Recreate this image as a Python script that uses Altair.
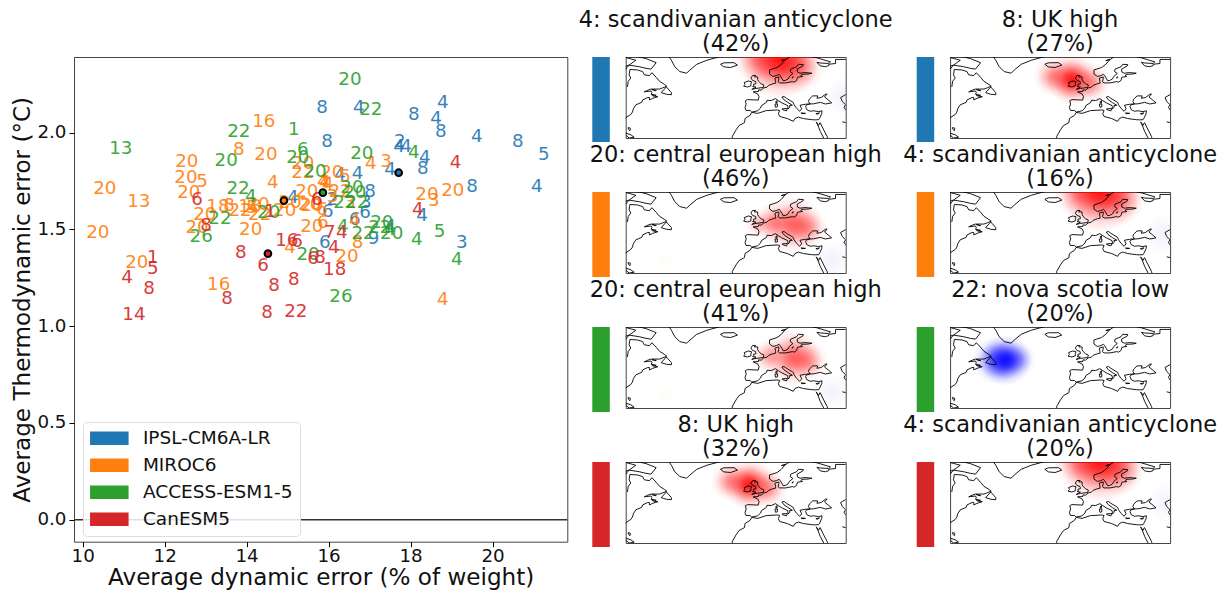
import altair as alt
import pandas as pd

FONT = "DejaVu Sans"
MODELS = ["IPSL-CM6A-LR", "MIROC6", "ACCESS-ESM1-5", "CanESM5"]
COLORS = ["#1f77b4", "#ff7f0e", "#2ca02c", "#d62728"]

blue_lab = [8,4,8,4,4,8,4,8,5,8,2,4,4,4,8,4,8,4,4,4,8,3,6,6,6,4,4,3,6,9,2,4]
blue_x = [15.84,16.74,18.08,18.79,18.62,18.74,19.62,20.62,21.25,15.96,17.74,17.72,17.89,18.35,18.30,17.50,19.50,21.08,16.28,16.71,17.01,16.91,15.98,16.89,16.64,17.50,18.28,19.25,15.91,17.10,16.10,15.13]
blue_y = [2.13,2.13,2.09,2.155,2.07,2.005,1.98,1.95,1.886,1.953,1.953,1.928,1.928,1.87,1.814,1.809,1.721,1.721,1.783,1.788,1.695,1.638,1.592,1.587,1.55,1.514,1.571,1.432,1.432,1.452,1.654,1.664]

orange_lab = [16,8,20,20,20,5,20,20,13,20,4,18,8,20,22,18,20,5,22,20,20,20,20,20,20,20,22,4,20,16,4,20,6,20,8,4,4,20,20,3,20,5,4,4,3,22,3,3,20,6,4]
orange_x = [14.42,13.81,14.47,12.54,12.52,12.91,12.59,10.54,11.37,10.37,14.64,13.30,13.57,12.98,13.84,14.08,14.28,14.13,14.32,14.93,15.06,12.79,14.10,15.59,15.47,15.37,15.37,15.91,11.32,13.32,15.06,15.59,15.86,16.45,16.71,16.64,18.79,18.40,19.03,18.57,16.08,16.40,15.86,17.03,17.40,16.28,16.10,16.52,15.54,15.84,15.98]
orange_y = [2.057,1.912,1.886,1.85,1.767,1.747,1.69,1.711,1.643,1.483,1.742,1.618,1.623,1.576,1.597,1.618,1.628,1.612,1.576,1.597,1.638,1.509,1.499,1.623,1.695,1.84,1.793,1.742,1.328,1.214,1.406,1.514,1.535,1.359,1.432,1.545,1.137,1.68,1.70,1.649,1.793,1.773,1.747,1.84,1.85,1.695,1.669,1.638,1.628,1.602,1.731]

green_lab = [20,22,1,22,13,20,6,20,20,22,4,22,20,26,20,20,4,20,20,22,22,4,22,22,20,20,4,5,4,26,4]
green_x = [16.52,17.03,15.15,13.81,10.93,13.50,15.37,15.25,15.67,13.79,14.10,13.35,14.54,12.89,15.50,16.81,18.08,16.57,16.64,16.40,16.69,16.35,16.84,17.25,17.30,17.54,18.15,18.71,19.13,16.30,17.50]
green_y = [2.274,2.119,2.016,2.005,1.917,1.855,1.912,1.871,1.798,1.711,1.669,1.556,1.587,1.463,1.37,1.891,1.897,1.716,1.69,1.638,1.638,1.514,1.478,1.509,1.535,1.478,1.447,1.488,1.344,1.152,1.499]

red_lab = [4,4,6,8,1,6,1,5,4,8,14,8,6,16,6,8,8,8,8,22,6,8,7,4,4,18]
red_x = [19.10,18.18,12.79,13.01,14.57,15.71,11.71,11.71,11.08,11.62,11.25,13.86,14.40,14.98,15.23,14.67,15.15,13.52,14.50,15.20,15.62,15.79,16.03,16.32,16.13,16.15]
red_y = [1.845,1.602,1.654,1.519,1.592,1.654,1.354,1.297,1.251,1.194,1.059,1.38,1.313,1.442,1.437,1.209,1.24,1.142,1.07,1.075,1.349,1.354,1.483,1.483,1.406,1.292]

mean_x = [17.71, 14.91, 15.86, 14.52]
mean_y = [1.793, 1.649, 1.69, 1.375]

x_ticks = [10, 12, 14, 16, 18, 20]
y_ticks = [0.0, 0.5, 1.0, 1.5, 2.0]

titles = [
    ["4: scandivanian anticyclone", "(42%)"], ["8: UK high", "(27%)"],
    ["20: central european high", "(46%)"], ["4: scandivanian anticyclone", "(16%)"],
    ["20: central european high", "(41%)"], ["22: nova scotia low", "(20%)"],
    ["8: UK high", "(32%)"], ["4: scandivanian anticyclone", "(20%)"],
]

# anomaly blobs per panel, each built of round spots: lon, lat, radius in degrees of lon, colour kind
blob_panel = [0,0,0,0, 1,1,1, 2,2,2,2,2,2, 3,3,3,3, 4,4,4,4,4, 5,5,5, 6,6,6, 7,7,7,7]
blob_lon = [-1,11,22,49, -19,-8,3, 7,19,28,-2,42,-56, -3,9,20,46, 5,19,28,42,-56, -53,-47,-40, -18,-7,4, -3,9,20,48]
blob_lat = [69,68,64,46, 58,56,54, 51,50,48,50,28,28, 70,70,66,44, 52,51,49,30,28, 49.5,49.5,50, 58,56,54, 70,70,66,45]
blob_r = [16,23,16,14, 12,15,12, 12,17,12,8,13,8, 16,24,16,14, 11,17,12,13,8, 14,15,11, 12,15,12, 16,24,16,14]
blob_kind = ["r4","r9","r4","b0", "r4","r9","r4", "r4","r6","r3","r2","b0","y0", "r4","r9","r4","b0", "r3","r6","r3","b0","y0", "b6","b9","b3", "r4","r9","r4", "r4","r9","r4","b0"]

coast = {
 "labrador": [(-79,51.5),(-78.5,55),(-77,57),(-78,59),(-77.5,62.3),(-73,62),(-70,61),(-69,59),(-66,58.5),(-64.5,60.3),(-62,57.5),(-60,55),(-57,53),(-55.7,52),(-58,51),(-60,50.2),(-65,50.2),(-67,49.5),(-69,48.5),(-65,49),(-64.5,48),(-65,47),(-64,46),(-61,45.5),(-64,44.5),(-66,43.5),(-66,45),(-67,45),(-70,43.5),(-70.5,42),(-74,40.5),(-75.5,38),(-76,36),(-77,34.5),(-80,32.5),(-81.5,30.5)],
 "newfoundland": [(-59,48),(-56,51.5),(-53,48),(-53,46.7),(-56,47),(-59,48)],
 "baffin": [(-81,71),(-72,70),(-68,69),(-62,66.5),(-65,62.5),(-68,63),(-72,64),(-78,65),(-74,68),(-81,70)],
 "southampton": [(-81,64),(-78,65),(-80,62.5),(-81,64)],
 "greenland": [(-55,71),(-53,68),(-51,64),(-48,61),(-44,60),(-42,62),(-38,65.5),(-32,68),(-25,70),(-22,71)],
 "iceland": [(-24,65.5),(-22,66.4),(-16,66.5),(-14,65),(-18,63.5),(-22,63.9),(-24,65.5)],
 "britain": [(-5.5,50),(-3,50.6),(1.3,51.2),(1.7,52.7),(0,53.5),(-1.5,55),(-2,56),(-2,57.7),(-4,57.7),(-3.2,58.6),(-5,58.6),(-6,57),(-5,55.5),(-3.2,54.9),(-3,53.5),(-4.5,53.2),(-4.2,52.3),(-5,51.8),(-3,51.4),(-5.5,50)],
 "ireland": [(-6,52.2),(-6,53.5),(-5.6,54.7),(-7.5,55.2),(-10,54.2),(-9.5,53),(-10.3,52),(-8,51.5),(-6,52.2)],
 "eurasia": [(18,71),(14,68),(12,65.5),(9.5,63.5),(5,62),(5,59.5),(7,58),(9,58.5),(10.7,59.3),(11.3,58.5),(12.5,56.5),(13,55.4),(14.3,55.5),(16,56.5),(16.7,58),(18.8,59.8),(17.2,61),(17.5,62.5),(21,64),(22,65.5),(25,65.3),(24.7,64.5),(21.3,62.5),(21.5,60.7),(23,60),(26,60.4),(30,60),(28,59.5),(24,59.3),(23.5,58.5),(24.5,58),(21.5,57.5),(21,55.5),(19.5,54.5),(18.5,54.8),(14.5,54),(11,54),(10,54.8),(10.5,56.5),(10.5,57.7),(8.2,57),(8.5,55),(8.7,53.9),(7,53.5),(4.5,52.5),(3.5,51.4),(1.6,50.9),(0,49.5),(-1.5,49.7),(-1.6,48.7),(-4.7,48.5),(-2,47.2),(-1.2,45.5),(-1.7,43.4),(-8,43.7),(-9.3,43),(-8.8,41),(-9.5,38.7),(-8.9,37),(-6.5,37),(-5.5,36),(-2,36.8),(-0.3,38.5),(0.2,40),(3.2,42),(3.5,43.3),(6,43.1),(8.5,44.3),(10.3,43),(12.3,41.7),(15.7,40),(16,38),(17,39),(16.8,40),(18.5,40.2),(16,41.8),(13.5,43.6),(12.3,45.3),(13.6,45.6),(15,44.5),(19,42),(19.5,40.5),(21,38.3),(22.8,36.5),(24,38),(23,40.2),(26,40.8),(29,41.1),(28,42.5),(28.5,44),(30.5,46),(33.5,46),(33,44.5),(35.5,45),(38,47),(39,47.2),(37.5,45.3),(40,43.2),(41.7,41.7),(38,41),(35,42),(31,41.1),(29,41),(27,40.5),(26.3,39.5),(27,37.5),(29,36.5),(31,36.8),(34,36.3),(36,36.8),(35.8,35),(34.7,32.5),(34,31.3),(32,31.2),(30,31.3),(25,32),(22,32.9),(20,32),(19,30.3),(15.5,32),(11,33.3),(10.2,35),(11,37),(9.5,37.3),(3,36.9),(-2,35.2),(-5.5,35.8),(-6.5,34),(-9.5,32),(-9.8,29.5),(-13,27.7),(-14.8,25),(-17,21),(-17,19)],
 "redsea_w": [(32.5,30),(33.5,28),(35,24),(37,20),(37.5,19)],
 "sinai": [(34.8,29.5),(34,27.8),(32.7,29.8)],
 "redsea_e": [(34.9,29.5),(37,25),(39,21),(39.5,19)],
 "caspian": [(47,45),(50,46.8),(53,46),(52,43),(53.5,40),(54,37),(50,37.3),(49,39),(50,40.5),(48,42.5),(47,45)],
 "gulf": [(48,30),(50,29.5),(52,27.5)],
 "kola": [(27,71),(33,69.5),(41,67),(40,66),(35,66.3),(33,66.7),(35,64.5),(38,64),(40,64.7),(40,65.5),(44,66),(44,68.5),(50,68.5),(54,68.5)],
 "sicily": [(12.5,38),(15.6,38.2),(15,36.7),(12.5,37.6),(12.5,38)],
 "sardinia": [(8.2,41),(9.7,41),(9.6,39.2),(8.5,39),(8.2,41)],
 "corsica": [(8.7,42.5),(9.5,43),(9.4,41.5),(8.8,41.6),(8.7,42.5)],
 "crete": [(23.6,35.5),(26.2,35.2),(24,35),(23.6,35.5)],
 "cyprus": [(32.4,35),(34.5,35.5),(33.5,34.7),(32.4,35)],
 "cuba": [(-80,23),(-77,22),(-75,20.5),(-78,20),(-80,21.8)],
 "bahamas": [(-78.5,26.5),(-77.2,26),(-77.5,24.5),(-78.5,25.5),(-78.5,26.5)],
 "pei": [(-64.5,46.9),(-62,46.4),(-63,46.1),(-64.5,46.9)],
 "anticosti": [(-64.5,49.9),(-62,49.4),(-62,49.1),(-64.5,49.9)],
 "lofoten": [(12,67.8),(14.5,68.6),(14,68.2),(12,67.8)],
 "gotland": [(18.2,57),(19,57.9),(18.8,57.2),(18.2,57)],
}

# ---------- scatter ----------
rows = []
for m, lab, xs, ys in zip(MODELS, [blue_lab, orange_lab, green_lab, red_lab], [blue_x, orange_x, green_x, red_x], [blue_y, orange_y, green_y, red_y]):
    for l, a, b in zip(lab, xs, ys):
        rows.append({"model": m, "label": str(l), "dyn": a, "thermo": b})
points = pd.DataFrame(rows)
means = pd.DataFrame({"model": MODELS, "dyn": mean_x, "thermo": mean_y, "c": COLORS})

x_scale = alt.Scale(domain=[9.788, 21.825], nice=False, zero=False)
y_scale = alt.Scale(domain=[-0.114, 2.391], nice=False, zero=False)
x_axis = alt.Axis(values=x_ticks, title="Average dynamic error (% of weight)", grid=False, domain=False,
                  labelFontSize=18.3, titleFontSize=23.1, tickColor="black", tickSize=5, labelColor="#111",
                  titleColor="#111", titleFontWeight="normal", labelPadding=1, titlePadding=1, labelFont=FONT, titleFont=FONT)
y_axis = alt.Axis(values=y_ticks, format=".1f", title="Average Thermodynamic error (°C)", grid=False, domain=False,
                  labelFontSize=18.3, titleFontSize=23.1, tickColor="black", tickSize=5, labelColor="#111",
                  titleColor="#111", titleFontWeight="normal", labelPadding=3, titlePadding=2.5, labelFont=FONT, titleFont=FONT)

rule = alt.Chart(pd.DataFrame({"zero": [0]})).mark_rule(color="#333", strokeWidth=1.5).encode(
    y=alt.Y("zero:Q", scale=y_scale, axis=y_axis))
txt = alt.Chart(points).mark_text(font=FONT, fontSize=18.3, opacity=0.9, baseline="middle", align="center").encode(
    x=alt.X("dyn:Q", scale=x_scale, axis=x_axis),
    y=alt.Y("thermo:Q", scale=y_scale, axis=y_axis),
    text="label:N",
    color=alt.Color("model:N", scale=alt.Scale(domain=MODELS, range=COLORS), legend=alt.Legend(
        title=None, orient="none", legendX=9, legendY=365, symbolType="M-1.3,-0.955H4.15V0.955H-1.3Z", symbolSize=200,
        symbolStrokeWidth=0, symbolOpacity=1, labelFontSize=18.5, labelFont=FONT, labelColor="#111",
        fillColor="rgba(255,255,255,0.85)", strokeColor="#ddd", cornerRadius=4, padding=7, rowPadding=8,
        labelOffset=34.4, values=MODELS)),
)
dots = alt.Chart(means).mark_point(filled=True, size=45, stroke="black", strokeWidth=2, opacity=1).encode(
    x=alt.X("dyn:Q", scale=x_scale, axis=x_axis),
    y=alt.Y("thermo:Q", scale=y_scale, axis=y_axis),
    fill=alt.Fill("c:N", scale=None),
)
scatter = alt.layer(rule, txt, dots).properties(width=493.3, height=484.7)

# ---------- maps ----------
coast_rows = []
for name, pts in coast.items():
    for i, (lo, la) in enumerate(pts):
        coast_rows.append({"path": name, "i": i, "lon": lo, "lat": la})
coast_df = pd.DataFrame(coast_rows)
lon_scale = alt.Scale(domain=[-80, 50], nice=False, zero=False)
lat_scale = alt.Scale(domain=[20, 70], nice=False, zero=False)

def grad(rgb, a):
    f = "rgba(%s,%%.3f)" % rgb
    return alt.RadialGradient(gradient="radial", x1=0.5, y1=0.5, x2=0.5, y2=0.5, r1=0, r2=0.5, stops=[
        alt.GradientStop(offset=0, color=f % a),
        alt.GradientStop(offset=0.25, color=f % (a * 0.82)),
        alt.GradientStop(offset=0.5, color=f % (a * 0.45)),
        alt.GradientStop(offset=0.75, color=f % (a * 0.13)),
        alt.GradientStop(offset=1, color=f % 0),
    ])

GRADS = {
    "r9": grad("255,0,0", 0.92), "r6": grad("255,0,0", 0.62), "r4": grad("255,0,0", 0.45),
    "r3": grad("255,0,0", 0.35), "r2": grad("255,0,0", 0.25),
    "b9": grad("0,0,255", 0.92), "b6": grad("0,0,255", 0.6), "b3": grad("0,0,255", 0.35),
    "b0": grad("70,70,220", 0.07), "y0": grad("240,190,110", 0.04),
}
ASPECT = (220 / 130) / (81 / 50)  # keeps each spot round on the page

def map_panel(k):
    layers = []
    for p, lo, la, r, kind in zip(blob_panel, blob_lon, blob_lat, blob_r, blob_kind):
        if p != k:
            continue
        d = pd.DataFrame({"a": [lo - r], "b": [lo + r], "c": [la - r * ASPECT], "d": [la + r * ASPECT]})
        layers.append(alt.Chart(d).mark_rect(clip=True, color=GRADS[kind]).encode(
            x=alt.X("a:Q", scale=lon_scale, axis=None), x2="b:Q",
            y=alt.Y("c:Q", scale=lat_scale, axis=None), y2="d:Q"))
    lines = alt.Chart(coast_df).mark_line(color="black", strokeWidth=0.9, clip=True, interpolate="linear").encode(
        x=alt.X("lon:Q", scale=lon_scale, axis=None),
        y=alt.Y("lat:Q", scale=lat_scale, axis=None),
        detail="path:N", order="i:Q")
    layers.append(lines)
    return alt.layer(*layers).properties(
        width=220, height=81,
        title=alt.TitleParams(text=titles[k], fontSize=22.5, font=FONT, fontWeight="normal", color="#111",
                              lineHeight=24, anchor="middle", offset=2))

def bar_panel(k):
    d = pd.DataFrame({"model": [MODELS[k // 2]]})
    return alt.Chart(d).mark_rect(color=COLORS[k // 2]).encode(detail="model:N").properties(
        width=17.5, height=85, view=alt.ViewBackground(stroke="transparent"))

# Nested concats count as zero-sized under flush bounds, so spacing here is the full pitch.
def column(col):
    rws = []
    for r in range(4):
        k = r * 2 + col
        rws.append(alt.hconcat(bar_panel(k), map_panel(k), spacing=15.4, bounds="flush"))
    return alt.vconcat(*rws, spacing=135, bounds="flush")

panels = alt.hconcat(column(0), column(1), spacing=324.4, bounds="flush")

chart = alt.hconcat(scatter, panels, spacing=24.3, bounds="flush").properties(
    padding={"left": 2, "top": 0, "right": 0, "bottom": 0}
).configure(font=FONT).configure_view(stroke="#444", strokeWidth=1)

chart.save("out.html", embed_options={"renderer": "svg", "actions": False})
